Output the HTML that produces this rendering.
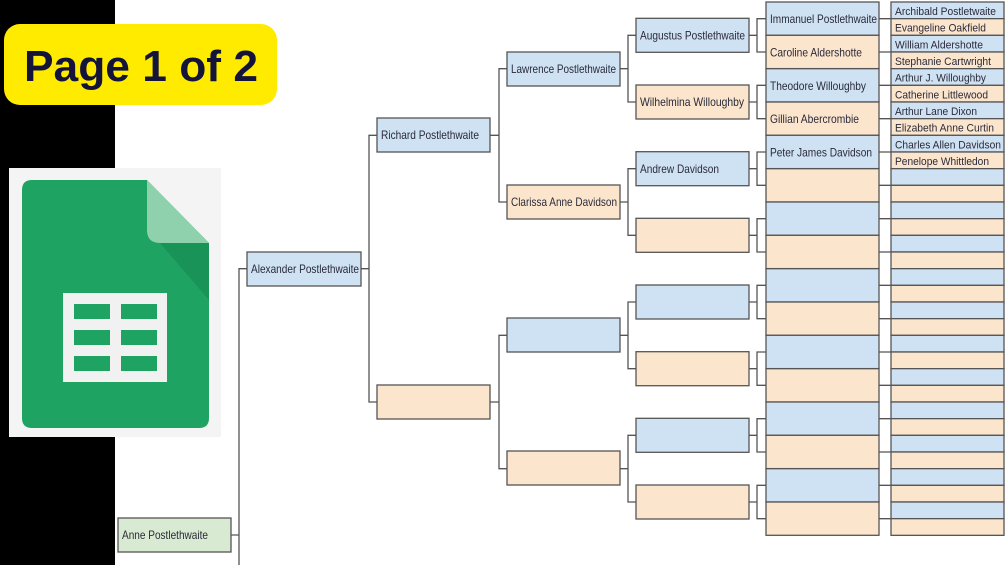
<!DOCTYPE html>
<html><head><meta charset="utf-8"><style>
html,body{margin:0;padding:0;width:1005px;height:565px;overflow:hidden;background:#fff}
svg{display:block}
text{font-family:"Liberation Sans Narrow","Liberation Sans",sans-serif;fill:#2a2a3a}
.b{fill:#cfe2f3;stroke:#555;stroke-width:1.3}
.o{fill:#fce5cd;stroke:#555;stroke-width:1.3}
.g{fill:#d9ead3;stroke:#555;stroke-width:1.3}
.l{stroke:#555;stroke-width:1.3;fill:none}
.t{font-size:12px}
.s{font-size:11px}
</style></head><body>
<svg width="1005" height="565" viewBox="0 0 1005 565" xmlns="http://www.w3.org/2000/svg">
<rect x="0" y="0" width="115" height="565" fill="#000"/>
<g class="l">
<path d="M231 535H239M239 565V268.7H247"/>
<path d="M361 268.7H369M377 135.3H369V402H377"/>
<path d="M490 135.3H499M507 68.7H499V202H507"/>
<path d="M490 402H499M507 335.3H499V468.7H507"/>
<path d="M620 68.7H628M636 35.3H628V102H636"/>
<path d="M620 202H628M636 168.7H628V235.3H636"/>
<path d="M620 335.3H628M636 302H628V368.7H636"/>
<path d="M620 468.7H628M636 435.3H628V502H636"/>
<path d="M749 35.3H757M766 18.7H757V52H766"/>
<path d="M749 102H757M766 85.3H757V118.7H766"/>
<path d="M749 168.7H757M766 152H757V185.3H766"/>
<path d="M749 235.3H757M766 218.7H757V252H766"/>
<path d="M749 302H757M766 285.3H757V318.7H766"/>
<path d="M749 368.7H757M766 352H757V385.3H766"/>
<path d="M749 435.3H757M766 418.7H757V452H766"/>
<path d="M749 502H757M766 485.3H757V518.7H766"/>
<path d="M879 18.7H891M879 52H891M879 85.3H891M879 118.7H891M879 152H891M879 185.3H891M879 218.7H891M879 252H891M879 285.3H891M879 318.7H891M879 352H891M879 385.3H891M879 418.7H891M879 452H891M879 485.3H891M879 518.7H891"/>
</g>
<rect class="g" x="118" y="518" width="113" height="34"/>
<text class="t" x="122" y="539" textLength="86" lengthAdjust="spacingAndGlyphs">Anne Postlethwaite</text>
<rect class="b" x="247" y="252" width="114" height="34"/>
<text class="t" x="251" y="273" textLength="108" lengthAdjust="spacingAndGlyphs">Alexander Postlethwaite</text>
<rect class="b" x="377" y="118" width="113" height="34"/>
<text class="t" x="381" y="139" textLength="98" lengthAdjust="spacingAndGlyphs">Richard Postlethwaite</text>
<rect class="o" x="377" y="385" width="113" height="34"/>
<rect class="b" x="507" y="52" width="113" height="34"/>
<text class="t" x="511" y="73" textLength="105" lengthAdjust="spacingAndGlyphs">Lawrence Postlethwaite</text>
<rect class="o" x="507" y="185" width="113" height="34"/>
<text class="t" x="511" y="206" textLength="106" lengthAdjust="spacingAndGlyphs">Clarissa Anne Davidson</text>
<rect class="b" x="507" y="318" width="113" height="34"/>
<rect class="o" x="507" y="451" width="113" height="34"/>
<rect class="b" x="636" y="18.3" width="113" height="34"/>
<text class="t" x="640" y="39.5" textLength="105" lengthAdjust="spacingAndGlyphs">Augustus Postlethwaite</text>
<rect class="o" x="636" y="85" width="113" height="34"/>
<text class="t" x="640" y="106" textLength="104" lengthAdjust="spacingAndGlyphs">Wilhelmina Willoughby</text>
<rect class="b" x="636" y="151.7" width="113" height="34"/>
<text class="t" x="640" y="173" textLength="79" lengthAdjust="spacingAndGlyphs">Andrew Davidson</text>
<rect class="o" x="636" y="218.3" width="113" height="34"/>
<rect class="b" x="636" y="285" width="113" height="34"/>
<rect class="o" x="636" y="351.7" width="113" height="34"/>
<rect class="b" x="636" y="418.3" width="113" height="34"/>
<rect class="o" x="636" y="485" width="113" height="34"/>
<g>
<rect class="b" x="766" y="2" width="113" height="33.3"/>
<rect class="o" x="766" y="35.3" width="113" height="33.3"/>
<rect class="b" x="766" y="68.7" width="113" height="33.3"/>
<rect class="o" x="766" y="102" width="113" height="33.3"/>
<rect class="b" x="766" y="135.3" width="113" height="33.3"/>
<rect class="o" x="766" y="168.7" width="113" height="33.3"/>
<rect class="b" x="766" y="202" width="113" height="33.3"/>
<rect class="o" x="766" y="235.3" width="113" height="33.3"/>
<rect class="b" x="766" y="268.7" width="113" height="33.3"/>
<rect class="o" x="766" y="302" width="113" height="33.3"/>
<rect class="b" x="766" y="335.3" width="113" height="33.3"/>
<rect class="o" x="766" y="368.7" width="113" height="33.3"/>
<rect class="b" x="766" y="402" width="113" height="33.3"/>
<rect class="o" x="766" y="435.3" width="113" height="33.3"/>
<rect class="b" x="766" y="468.7" width="113" height="33.3"/>
<rect class="o" x="766" y="502" width="113" height="33.3"/>
</g>
<text class="t" x="770" y="23" textLength="107" lengthAdjust="spacingAndGlyphs">Immanuel Postlethwaite</text>
<text class="t" x="770" y="56.5" textLength="92" lengthAdjust="spacingAndGlyphs">Caroline Aldershotte</text>
<text class="t" x="770" y="90" textLength="96" lengthAdjust="spacingAndGlyphs">Theodore Willoughby</text>
<text class="t" x="770" y="123" textLength="89" lengthAdjust="spacingAndGlyphs">Gillian Abercrombie</text>
<text class="t" x="770" y="156.5" textLength="102" lengthAdjust="spacingAndGlyphs">Peter James Davidson</text>
<g>
<rect class="b" x="891" y="2" width="113" height="16.67"/>
<rect class="o" x="891" y="18.67" width="113" height="16.67"/>
<rect class="b" x="891" y="35.33" width="113" height="16.67"/>
<rect class="o" x="891" y="52" width="113" height="16.67"/>
<rect class="b" x="891" y="68.67" width="113" height="16.67"/>
<rect class="o" x="891" y="85.33" width="113" height="16.67"/>
<rect class="b" x="891" y="102" width="113" height="16.67"/>
<rect class="o" x="891" y="118.67" width="113" height="16.67"/>
<rect class="b" x="891" y="135.33" width="113" height="16.67"/>
<rect class="o" x="891" y="152" width="113" height="16.67"/>
<rect class="b" x="891" y="168.67" width="113" height="16.67"/>
<rect class="o" x="891" y="185.33" width="113" height="16.67"/>
<rect class="b" x="891" y="202" width="113" height="16.67"/>
<rect class="o" x="891" y="218.67" width="113" height="16.67"/>
<rect class="b" x="891" y="235.33" width="113" height="16.67"/>
<rect class="o" x="891" y="252" width="113" height="16.67"/>
<rect class="b" x="891" y="268.67" width="113" height="16.67"/>
<rect class="o" x="891" y="285.33" width="113" height="16.67"/>
<rect class="b" x="891" y="302" width="113" height="16.67"/>
<rect class="o" x="891" y="318.67" width="113" height="16.67"/>
<rect class="b" x="891" y="335.33" width="113" height="16.67"/>
<rect class="o" x="891" y="352" width="113" height="16.67"/>
<rect class="b" x="891" y="368.67" width="113" height="16.67"/>
<rect class="o" x="891" y="385.33" width="113" height="16.67"/>
<rect class="b" x="891" y="402" width="113" height="16.67"/>
<rect class="o" x="891" y="418.67" width="113" height="16.67"/>
<rect class="b" x="891" y="435.33" width="113" height="16.67"/>
<rect class="o" x="891" y="452" width="113" height="16.67"/>
<rect class="b" x="891" y="468.67" width="113" height="16.67"/>
<rect class="o" x="891" y="485.33" width="113" height="16.67"/>
<rect class="b" x="891" y="502" width="113" height="16.67"/>
<rect class="o" x="891" y="518.67" width="113" height="16.67"/>
</g>
<text class="s" x="895" y="15" textLength="101" lengthAdjust="spacingAndGlyphs">Archibald Postletwaite</text>
<text class="s" x="895" y="31.5" textLength="91" lengthAdjust="spacingAndGlyphs">Evangeline Oakfield</text>
<text class="s" x="895" y="48.5" textLength="88" lengthAdjust="spacingAndGlyphs">William Aldershotte</text>
<text class="s" x="895" y="65" textLength="96" lengthAdjust="spacingAndGlyphs">Stephanie Cartwright</text>
<text class="s" x="895" y="81.5" textLength="91" lengthAdjust="spacingAndGlyphs">Arthur J. Willoughby</text>
<text class="s" x="895" y="98.5" textLength="93" lengthAdjust="spacingAndGlyphs">Catherine Littlewood</text>
<text class="s" x="895" y="115" textLength="82" lengthAdjust="spacingAndGlyphs">Arthur Lane Dixon</text>
<text class="s" x="895" y="131.5" textLength="99" lengthAdjust="spacingAndGlyphs">Elizabeth Anne Curtin</text>
<text class="s" x="895" y="148.5" textLength="106" lengthAdjust="spacingAndGlyphs">Charles Allen Davidson</text>
<text class="s" x="895" y="165" textLength="94" lengthAdjust="spacingAndGlyphs">Penelope Whittledon</text>
<rect x="4" y="24" width="273" height="81" rx="16" fill="#ffeb00"/>
<text x="141" y="81" text-anchor="middle" textLength="234" lengthAdjust="spacingAndGlyphs" style="font-family:'Liberation Sans','DejaVu Sans',sans-serif;font-weight:bold;font-size:44px;fill:#14143a">Page 1 of 2</text>
<rect x="9" y="168" width="212" height="269" fill="#f4f4f4"/>
<path d="M32 180H147L209 243V418Q209 428 199 428H32Q22 428 22 418V190Q22 180 32 180Z" fill="#1ea362"/>
<path d="M147 180V230Q147 243 160 243H209Z" fill="#8fd1ac"/>
<path d="M160 243H209V300Z" fill="#188f55" opacity="0.8"/>
<rect x="63" y="293" width="104" height="89" fill="#f1f1f1"/>
<rect x="74" y="304" width="36" height="15" fill="#1ea362"/>
<rect x="121" y="304" width="36" height="15" fill="#1ea362"/>
<rect x="74" y="330" width="36" height="15" fill="#1ea362"/>
<rect x="121" y="330" width="36" height="15" fill="#1ea362"/>
<rect x="74" y="356" width="36" height="15" fill="#1ea362"/>
<rect x="121" y="356" width="36" height="15" fill="#1ea362"/>
</svg>
</body></html>
